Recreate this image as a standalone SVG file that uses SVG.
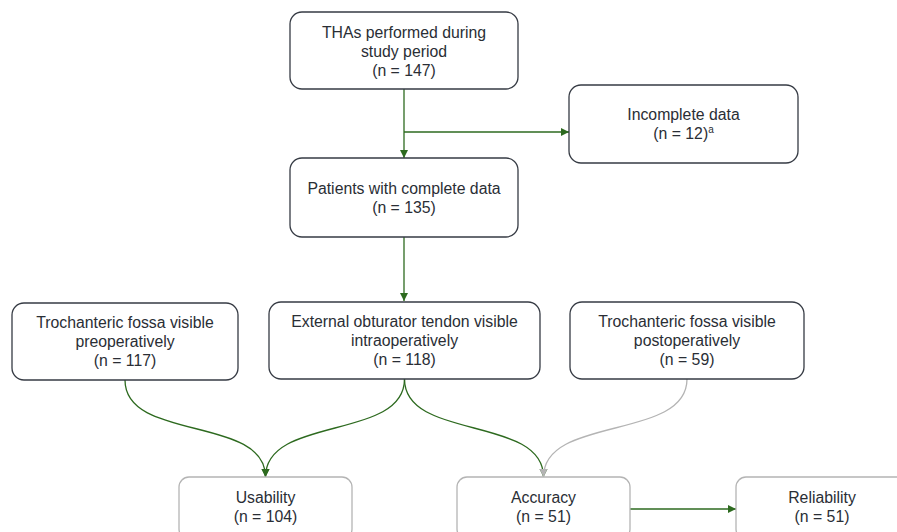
<svg xmlns="http://www.w3.org/2000/svg" width="897" height="532" viewBox="0 0 897 532">
<defs>
<style>
.box{fill:#fff;stroke:#363b44;stroke-width:1.3}
.gbox{fill:#fff;stroke:#b4b4b4;stroke-width:1.3}
.t{font-family:"Liberation Sans",Arial,Helvetica,sans-serif;font-size:15.8px;fill:#2a2e35;text-anchor:middle}
.c{fill:none;stroke:#2d6a1f;stroke-width:1.3}
.cg{fill:none;stroke:#b4b4b4;stroke-width:1.3}
</style>
<marker id="ag" markerUnits="userSpaceOnUse" markerWidth="10" markerHeight="10" refX="8" refY="4" orient="auto"><path d="M0,0 L8,4 L0,8 z" fill="#2d6a1f"/></marker>
<marker id="agr" markerUnits="userSpaceOnUse" markerWidth="10" markerHeight="10" refX="8" refY="4" orient="auto"><path d="M0,0 L8,4 L0,8 z" fill="#b4b4b4"/></marker>
</defs>
<g id="connectors">
<path class="c" d="M404,89 L404,158" marker-end="url(#ag)"/>
<path class="c" d="M404,132 L569,132" marker-end="url(#ag)"/>
<path class="c" d="M404,237 L404,301" marker-end="url(#ag)"/>
<path class="c" d="M125,380 C125,442 265.5,415 265.5,477" marker-end="url(#ag)"/>
<path class="c" d="M404.5,379 C404.5,441 265.5,415 265.5,477" marker-end="url(#ag)"/>
<path class="c" d="M404.5,379 C404.5,441 543.5,415 543.5,477" marker-end="url(#ag)"/>
<path class="cg" d="M687,379 C687,441 543.5,415 543.5,477" marker-end="url(#agr)"/>
<path class="c" d="M630,509 L736,509" marker-end="url(#ag)"/>
</g>
<g id="n1"><rect class="box" x="290" y="12" width="228" height="77" rx="12"/>
<text class="t" x="404" y="38">THAs performed during</text>
<text class="t" x="404" y="57">study period</text>
<text class="t" x="404" y="76">(n = 147)</text></g>
<g id="n2"><rect class="box" x="569" y="85" width="229" height="78" rx="12"/>
<text class="t" x="683.5" y="120">Incomplete data</text>
<text class="t" x="683.5" y="139">(n = 12)<tspan font-size="10px" dy="-6">a</tspan></text></g>
<g id="n3"><rect class="box" x="290" y="158" width="228" height="79" rx="12"/>
<text class="t" x="404" y="194">Patients with complete data</text>
<text class="t" x="404" y="213">(n = 135)</text></g>
<g id="n4"><rect class="box" x="12" y="303" width="226" height="77" rx="12"/>
<text class="t" x="125" y="328">Trochanteric fossa visible</text>
<text class="t" x="125" y="347">preoperatively</text>
<text class="t" x="125" y="366">(n = 117)</text></g>
<g id="n5"><rect class="box" x="269" y="302" width="271" height="77" rx="12"/>
<text class="t" x="404.5" y="327">External obturator tendon visible</text>
<text class="t" x="404.5" y="346">intraoperatively</text>
<text class="t" x="404.5" y="365">(n = 118)</text></g>
<g id="n6"><rect class="box" x="570" y="302" width="234" height="77" rx="12"/>
<text class="t" x="687" y="327">Trochanteric fossa visible</text>
<text class="t" x="687" y="346">postoperatively</text>
<text class="t" x="687" y="365">(n = 59)</text></g>
<g id="n7"><rect class="gbox" x="179" y="477" width="173" height="62" rx="10"/>
<text class="t" x="265.5" y="503">Usability</text>
<text class="t" x="265.5" y="522">(n = 104)</text></g>
<g id="n8"><rect class="gbox" x="457" y="477" width="173" height="62" rx="10"/>
<text class="t" x="543.5" y="503">Accuracy</text>
<text class="t" x="543.5" y="522">(n = 51)</text></g>
<g id="n9"><rect class="gbox" x="736" y="477" width="173" height="62" rx="10"/>
<text class="t" x="822" y="503">Reliability</text>
<text class="t" x="822" y="522">(n = 51)</text></g>
</svg>
